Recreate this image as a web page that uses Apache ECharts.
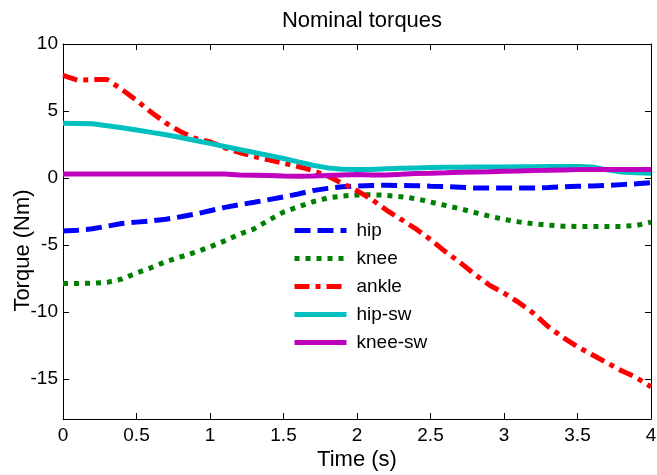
<!DOCTYPE html>
<html>
<head>
<meta charset="utf-8">
<script src="https://cdn.jsdelivr.net/npm/echarts@6/dist/echarts.min.js"></script>
<style>html,body{margin:0;padding:0;background:#fff}#c{width:657px;height:475px}</style>
</head>
<body>
<div id="c"></div>
<script>
var times = [0,0.1,0.2,0.3,0.4,0.5,0.6,0.7,0.8,0.9,1.0,1.1,1.2,1.3,1.4,1.5,1.6,1.7,1.8,1.9,2.0,2.1,2.2,2.3,2.4,2.5,2.6,2.7,2.8,2.9,3.0,3.1,3.2,3.3,3.4,3.5,3.6,3.7,3.8,3.9,4.0];
var hip = [-3.97,-3.9,-3.8,-3.6,-3.4,-3.3,-3.2,-3.08,-2.9,-2.7,-2.45,-2.2,-2.0,-1.82,-1.62,-1.42,-1.2,-0.95,-0.78,-0.66,-0.6,-0.56,-0.55,-0.56,-0.58,-0.62,-0.65,-0.7,-0.75,-0.76,-0.76,-0.76,-0.75,-0.72,-0.66,-0.62,-0.6,-0.56,-0.5,-0.44,-0.35];
var knee = [-7.88,-7.88,-7.86,-7.8,-7.55,-7.1,-6.7,-6.25,-5.9,-5.55,-5.15,-4.7,-4.2,-3.8,-3.15,-2.55,-2.15,-1.78,-1.5,-1.35,-1.28,-1.25,-1.3,-1.4,-1.55,-1.8,-2.05,-2.3,-2.58,-2.85,-3.1,-3.28,-3.42,-3.52,-3.6,-3.62,-3.62,-3.62,-3.62,-3.55,-3.3];
var ankle = [7.65,7.3,7.35,7.35,6.6,5.8,4.9,4.1,3.45,2.95,2.7,2.25,1.9,1.6,1.35,1.1,0.85,0.55,0.15,-0.4,-0.95,-1.6,-2.4,-3.1,-3.8,-4.6,-5.5,-6.3,-7.2,-8.0,-8.6,-9.3,-10.1,-11.1,-11.9,-12.6,-13.2,-13.8,-14.4,-14.9,-15.6];
var hipSw = [4.08,4.07,4.05,3.9,3.75,3.58,3.4,3.22,3.02,2.8,2.58,2.35,2.12,1.9,1.68,1.45,1.2,0.95,0.75,0.65,0.63,0.63,0.68,0.72,0.75,0.78,0.8,0.8,0.81,0.82,0.82,0.83,0.84,0.85,0.85,0.85,0.82,0.6,0.45,0.38,0.35];
var kneeSw = [0.3,0.3,0.3,0.3,0.3,0.3,0.3,0.3,0.3,0.3,0.3,0.3,0.22,0.2,0.18,0.15,0.13,0.14,0.18,0.22,0.25,0.22,0.22,0.27,0.33,0.35,0.38,0.42,0.45,0.47,0.5,0.52,0.55,0.57,0.6,0.62,0.63,0.63,0.63,0.63,0.63];
var seriesNames = ['hip','knee','ankle','hip-sw','knee-sw'];
var xTicks = [0,0.5,1,1.5,2,2.5,3,3.5,4];
var yTicks = [-15,-10,-5,0,5,10];

function pairs(v){ return times.map(function(t,i){ return [t, v[i]]; }); }

var font = 'Liberation Sans, Arial, sans-serif';
var chart = echarts.init(document.getElementById('c'), null, {renderer:'canvas'});

function xAx(pos, show){
  return {type:'value', position:pos, min:0, max:4, interval:0.5,
    axisLine:{show:true, onZero:false, lineStyle:{color:'#000', width:1}},
    axisTick:{show:true, inside:true, length:6, lineStyle:{color:'#000'}},
    axisLabel:{show:show, margin:7, color:'#000', fontSize:19, fontFamily:font},
    splitLine:{show:false},
    name: show ? 'Time (s)' : '', nameLocation:'middle', nameGap:30, nameMoveOverlap:false,
    nameTextStyle:{color:'#000', fontSize:22, fontFamily:font}};
}
function yAx(pos, show){
  return {type:'value', position:pos, min:-18, max:10,
    axisLine:{show:true, onZero:false, lineStyle:{color:'#000', width:1}},
    axisTick:{show:true, inside:true, length:6, customValues:yTicks, lineStyle:{color:'#000'}},
    axisLabel:{show:show, margin:5, color:'#000', fontSize:19, fontFamily:font, customValues:yTicks},
    splitLine:{show:false},
    name: show ? 'Torque (Nm)' : '', nameLocation:'middle', nameGap:29, nameMoveOverlap:false,
    nameTextStyle:{color:'#000', fontSize:22, fontFamily:font, padding:[0,38,0,0]}};
}

var styles = [
  {color:'#0000ff', type:[16,7]},
  {color:'#008000', type:[5,6]},
  {color:'#ff0000', type:[15,6,5,6]},
  {color:'#00bfbf', type:'solid'},
  {color:'#bf00bf', type:'solid'}
];
var datas = [hip, knee, ankle, hipSw, kneeSw];

chart.setOption({
  animation:false,
  backgroundColor:'#fff',
  title:{text:'Nominal torques', left:357, top:5, textAlign:'center',
    textStyle:{color:'#000', fontSize:22, fontWeight:'normal', fontFamily:font}},
  grid:{left:63, right:6, top:44, bottom:56, containLabel:false, outerBoundsMode:'none'},
  legend:{orient:'vertical', left:287, top:216, itemWidth:52, itemHeight:19, itemGap:9,
    data:seriesNames, itemStyle:{opacity:0}, lineStyle:{width:5},
    textStyle:{color:'#000', fontSize:19, fontFamily:font, padding:[0,0,0,5]}},
  xAxis:[xAx('bottom', true), xAx('top', false)],
  yAxis:[yAx('left', true), yAx('right', false)],
  series: seriesNames.map(function(n, i){
    return {name:n, type:'line', data:pairs(datas[i]), showSymbol:false, symbol:'none',
      color:styles[i].color,
      lineStyle:{color:styles[i].color, width:5, type:styles[i].type, cap:'butt'}};
  })
});
</script>
</body>
</html>
